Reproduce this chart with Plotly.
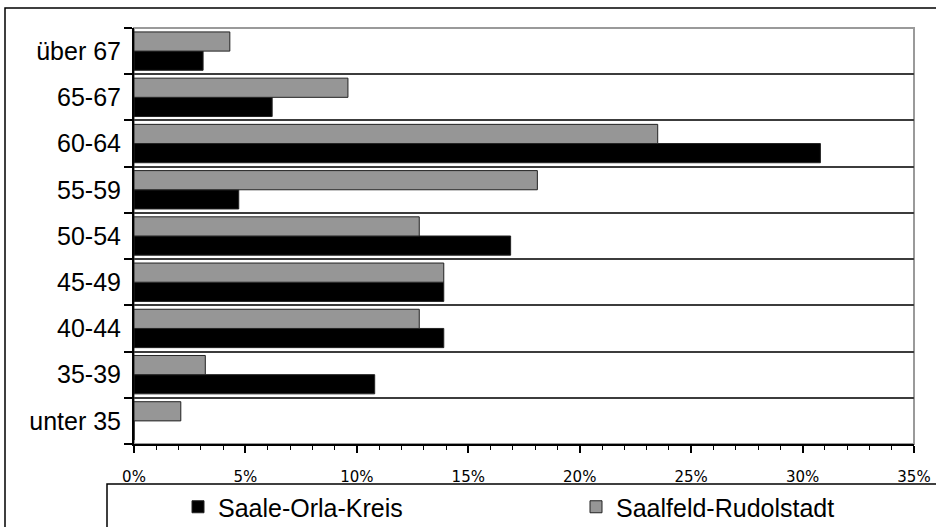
import plotly.graph_objects as go

categories = ["unter 35", "35-39", "40-44", "45-49", "50-54", "55-59", "60-64", "65-67", "über 67"]
saale_orla = [0.0, 10.8, 13.9, 13.9, 16.9, 4.7, 30.8, 6.2, 3.1]
saalfeld = [2.1, 3.2, 12.8, 13.9, 12.8, 18.1, 23.5, 9.6, 4.3]
series_names = ["Saale-Orla-Kreis", "Saalfeld-Rudolstadt"]

W, H = 936, 527
L, R, T, B = 134, 22, 28, 83
pw, ph = W - L - R, H - T - B

def px(x):
    return (x - L) / pw

def py(y):
    return (H - B - y) / ph

fig = go.Figure()
fig.add_trace(go.Bar(y=categories, x=saale_orla, name=series_names[0], orientation="h", legend="legend",
                     marker=dict(color="#000000", line=dict(color="#222222", width=1))))
fig.add_trace(go.Bar(y=categories, x=saalfeld, name=series_names[1], orientation="h", legend="legend2",
                     marker=dict(color="#969696", line=dict(color="#222222", width=1))))

legend_font = dict(size=25, family="Liberation Sans, Arial, sans-serif", color="black")

fig.update_layout(
    width=W, height=H,
    margin=dict(l=L, r=R, t=T, b=B, pad=0, autoexpand=False),
    paper_bgcolor="white", plot_bgcolor="white",
    barmode="group", bargap=0.17, bargroupgap=0,
    font=dict(family="Liberation Sans, Arial, sans-serif", color="black"),
    showlegend=True,
    legend=dict(orientation="h", xref="container", yref="container",
                x=178 / W, y=1 - 507 / H, xanchor="left", yanchor="middle",
                font=legend_font, bgcolor="rgba(0,0,0,0)", borderwidth=0),
    legend2=dict(orientation="h", xref="container", yref="container",
                 x=576 / W, y=1 - 507 / H, xanchor="left", yanchor="middle",
                 font=legend_font, bgcolor="rgba(0,0,0,0)", borderwidth=0),
    shapes=[
        dict(type="rect", xref="paper", yref="paper", x0=px(5), x1=px(960), y0=py(560), y1=py(8),
             line=dict(color="black", width=1.5), layer="below"),
        dict(type="rect", xref="paper", yref="paper", x0=px(107), x1=px(960), y0=py(560), y1=py(484),
             line=dict(color="black", width=1.5), layer="below"),
        dict(type="rect", xref="x domain", yref="y domain", x0=0, x1=1, y0=0, y1=1,
             line=dict(color="#9a9a9a", width=2), layer="below"),
    ],
)

fig.update_xaxes(range=[0, 35], dtick=5, tick0=0, ticksuffix="%", showgrid=False, zeroline=False,
                 showline=True, linecolor="black", linewidth=2, automargin=False,
                 ticks="outside", ticklen=7, tickwidth=2, tickcolor="black",
                 ticklabelstandoff=11,
                 tickfont=dict(size=15, family="DejaVu Sans, sans-serif"),
                 minor=dict(dtick=1, ticks="outside", ticklen=4, tickwidth=1, tickcolor="black"))

fig.update_yaxes(type="category", categoryorder="array", categoryarray=categories,
                 tickson="boundaries", showgrid=True, gridcolor="#3c3c3c", gridwidth=2,
                 showline=True, linecolor="black", linewidth=2, automargin=False,
                 ticks="outside", ticklen=8, tickwidth=2, tickcolor="black",
                 tickfont=dict(size=25), ticklabelstandoff=6, zeroline=False)

fig.write_html("out.html", config={"displayModeBar": False},
               post_script="document.body.style.margin='0';document.body.style.padding='0';")
